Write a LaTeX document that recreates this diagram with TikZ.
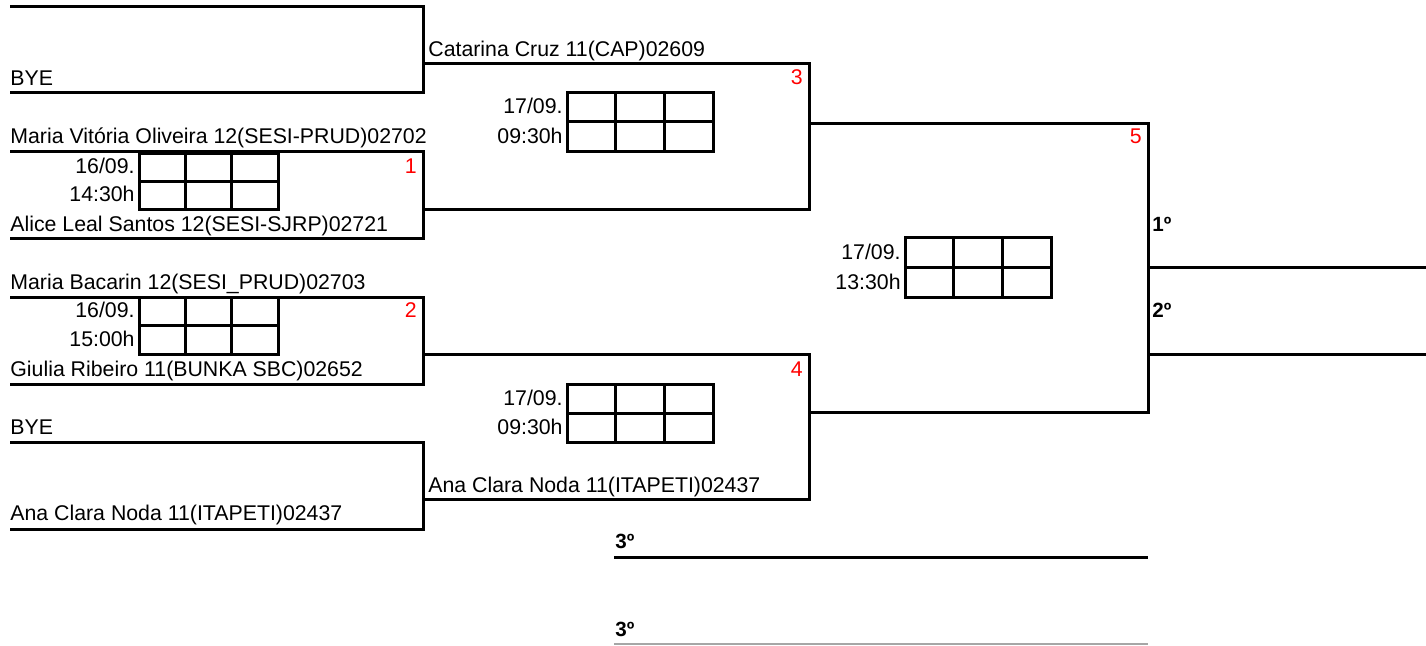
\documentclass[tikz,border=0pt]{standalone}
\usepackage{fontspec}
\setmainfont{Liberation Sans}
\usetikzlibrary{positioning}
\definecolor{jogored}{HTML}{FF0000}
\definecolor{linhagray}{HTML}{A6A6A6}
\tikzset{
    linha/.style={line width=1.5pt, draw=black, line join=miter},
    placarbox/.style={line width=1.5pt, draw=black},
    nome/.style={anchor=base west, inner sep=0pt, font=\fontsize{10.65}{12}\selectfont},
    data/.style={anchor=base east, inner sep=0pt, font=\fontsize{10.65}{12}\selectfont},
    jogo/.style={anchor=base east, inner sep=0pt, text=jogored, font=\fontsize{10.65}{12}\selectfont},
    lugar/.style={anchor=base west, inner sep=0pt, font=\fontsize{10.3}{12}\selectfont\bfseries}
}
% score table: x0, y0, x1, y1, name, date, time
\newcommand{\placar}[7]{%
    \draw[placarbox] (#1,#2) rectangle (#3,#4);
    \foreach \k in {1,2}
        \draw[placarbox] ({#1+\k*(#3-#1)/3},#2) -- ({#1+\k*(#3-#1)/3},#4);
    \draw[placarbox] (#1,{(#2+#4)/2}) -- (#3,{(#2+#4)/2});
    \node[data] (#5d) at ({#1-4},{(#2+#4)/2-8}) {#6};
    \node[data] (#5h) at ({#1-4},{#4-8}) {#7};
}

\begin{document}
\begin{tikzpicture}[x=0.5pt, y=-0.5pt]
    \useasboundingbox (0,0) rectangle (1426,645);

    % first round
    \draw[linha] (10,6) -| (423,92) -- (10,92);
    \draw[linha] (10,151) -| (423,238) -- (10,238);
    \draw[linha] (10,297) -| (423,384) -- (10,384);
    \draw[linha] (10,442) -| (423,529) -- (10,529);

    \node[nome] (bye1) at (10,85) {BYE};
    \node[nome] (maria1) at (10,143) {Maria Vitória Oliveira 12(SESI-PRUD)02702};
    \node[nome] (alice) at (10,231) {Alice Leal Santos 12(SESI-SJRP)02721};
    \node[nome] (maria2) at (10,289) {Maria Bacarin 12(SESI\_PRUD)02703};
    \node[nome] (giulia) at (10,376) {Giulia Ribeiro 11(BUNKA SBC)02652};
    \node[nome] (bye2) at (10,434) {BYE};
    \node[nome] (ana1) at (10,520) {Ana Clara Noda 11(ITAPETI)02437};

    \placar{139}{153}{278}{209}{j1}{16/09.}{14:30h}
    \placar{139}{297}{278}{354}{j2}{16/09.}{15:00h}
    \node[jogo] (n1) at (417,173) {1};
    \node[jogo] (n2) at (417,317) {2};

    % semifinals
    \draw[linha] (423,63) -| (809,209) -- (423,209);
    \draw[linha] (423,354) -| (809,499) -- (423,499);

    \node[nome] (catarina) at (428,56) {Catarina Cruz 11(CAP)02609};
    \node[nome] (ana2) at (428,492) {Ana Clara Noda 11(ITAPETI)02437};

    \placar{567}{92}{713}{151}{j3}{17/09.}{09:30h}
    \placar{567}{384}{713}{442}{j4}{17/09.}{09:30h}
    \node[jogo] (n3) at (803,84) {3};
    \node[jogo] (n4) at (803,376) {4};

    % final
    \draw[linha] (809,123) -| (1148,412) -- (809,412);
    \placar{905}{237}{1051}{297}{j5}{17/09.}{13:30h}
    \node[jogo] (n5) at (1142,143) {5};

    \draw[linha] (1148,267) -- (1426,267);
    \draw[linha] (1148,354) -- (1426,354);
    \node[lugar] (primeiro) at (1152,231) {1º};
    \node[lugar] (segundo) at (1152,317) {2º};

    % third place
    \draw[linha] (614,557) -- (1148,557);
    \draw[linhagray, line width=0.6pt] (614,644) -- (1148,644);
    \node[lugar] (terceiro1) at (615,548) {3º};
    \node[lugar] (terceiro2) at (615,636) {3º};
\end{tikzpicture}
\end{document}
